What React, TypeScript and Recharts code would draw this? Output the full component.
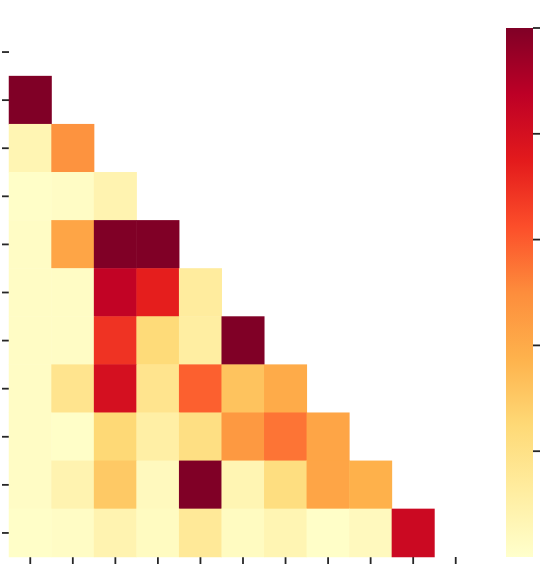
import { Bar, BarChart, Scatter, ScatterChart, XAxis, YAxis } from "recharts";

// YlOrRd anchor colours (matplotlib), low -> high
const YLORRD = [
  "#ffffcc",
  "#ffeda0",
  "#fed976",
  "#feb24c",
  "#fd8d3c",
  "#fc4e2a",
  "#e31a1c",
  "#bd0026",
  "#800026",
];

// lower triangle, diagonal masked: row i holds columns 0..i-1
const row1 = [1.0];
const row2 = [0.07, 0.48];
const row3 = [0.01, 0.02, 0.08];
const row4 = [0.02, 0.42, 1.0, 1.0];
const row5 = [0.02, 0.02, 0.86, 0.74, 0.13];
const row6 = [0.02, 0.02, 0.69, 0.24, 0.12, 1.0];
const row7 = [0.02, 0.18, 0.8, 0.18, 0.59, 0.32, 0.4];
const row8 = [0.02, 0.01, 0.25, 0.11, 0.21, 0.46, 0.55, 0.42];
const row9 = [0.02, 0.08, 0.3, 0.04, 1.0, 0.07, 0.22, 0.42, 0.38];
const row10 = [0.01, 0.02, 0.08, 0.03, 0.15, 0.03, 0.07, 0.01, 0.04, 0.83];

const ROWS = [[], row1, row2, row3, row4, row5, row6, row7, row8, row9, row10];
const AXIS_TICKS = [0, 1, 2, 3, 4, 5, 6, 7, 8, 9, 10];
const CBAR_TICKS = [0.2, 0.4, 0.6, 0.8, 1.0];

const cells = ROWS.flatMap((vals, r) => vals.map((v, c) => ({ x: c, y: r, v })));

const W = 478;
const H = 573;
const MARGIN = { top: 28, right: 1, bottom: 0, left: 0 };
const Y_W = 9;
const X_H = 16;
const CELL_W = (W - MARGIN.left - MARGIN.right - Y_W) / AXIS_TICKS.length;
const CELL_H = (H - MARGIN.top - MARGIN.bottom - X_H) / AXIS_TICKS.length;

function hex(c: string) {
  return [1, 3, 5].map((i) => parseInt(c.slice(i, i + 2), 16));
}

function ylOrRd(v: number) {
  const t = Math.max(0, Math.min(1, v)) * (YLORRD.length - 1);
  const i = Math.min(Math.floor(t), YLORRD.length - 2);
  const f = t - i;
  const a = hex(YLORRD[i]);
  const b = hex(YLORRD[i + 1]);
  const rgb = a.map((x, k) => Math.round(x + (b[k] - x) * f));
  return `rgb(${rgb.join(",")})`;
}

function Cell(props: any) {
  const { cx, cy, payload } = props;
  return (
    <rect
      x={cx - CELL_W / 2 - 0.25}
      y={cy - CELL_H / 2 - 0.25}
      width={CELL_W + 0.5}
      height={CELL_H + 0.5}
      fill={ylOrRd(payload.v)}
    />
  );
}

// labels are not shown, only the tick marks
const NoLabel = () => <g />;

const tickStyle = { stroke: "#262626", strokeWidth: 1.8 };

export default function App() {
  return (
    <div style={{ position: "absolute", left: 0, top: 0, width: 543, height: 573, background: "#fff" }}>
      <div style={{ position: "absolute", left: 0, top: 0 }}>
        <ScatterChart width={W} height={H} margin={MARGIN}>
          <XAxis
            dataKey="x"
            type="number"
            domain={[-0.5, 10.5]}
            ticks={AXIS_TICKS}
            height={X_H}
            tick={NoLabel}
            tickSize={7}
            tickLine={tickStyle}
            axisLine={false}
          />
          <YAxis
            dataKey="y"
            type="number"
            domain={[-0.5, 10.5]}
            ticks={AXIS_TICKS}
            reversed
            width={Y_W}
            tick={NoLabel}
            tickSize={7}
            tickLine={tickStyle}
            axisLine={false}
          />
          <Scatter data={cells} shape={Cell} isAnimationActive={false} />
        </ScatterChart>
      </div>
      <div style={{ position: "absolute", left: 506, top: 0 }}>
        <BarChart
          width={37}
          height={H}
          data={[{ v: 1 }]}
          margin={{ top: 28, right: 0, bottom: 16, left: 0 }}
          barCategoryGap={0}
        >
          <defs>
            <linearGradient id="cbar" x1="0" y1="1" x2="0" y2="0">
              {YLORRD.map((c, i) => (
                <stop key={c} offset={i / (YLORRD.length - 1)} stopColor={c} />
              ))}
            </linearGradient>
          </defs>
          <XAxis hide />
          <YAxis
            orientation="right"
            domain={[0, 1]}
            ticks={CBAR_TICKS}
            width={10}
            tick={NoLabel}
            tickSize={7}
            tickLine={tickStyle}
            axisLine={false}
          />
          <Bar dataKey="v" fill="url(#cbar)" isAnimationActive={false} />
        </BarChart>
      </div>
    </div>
  );
}
